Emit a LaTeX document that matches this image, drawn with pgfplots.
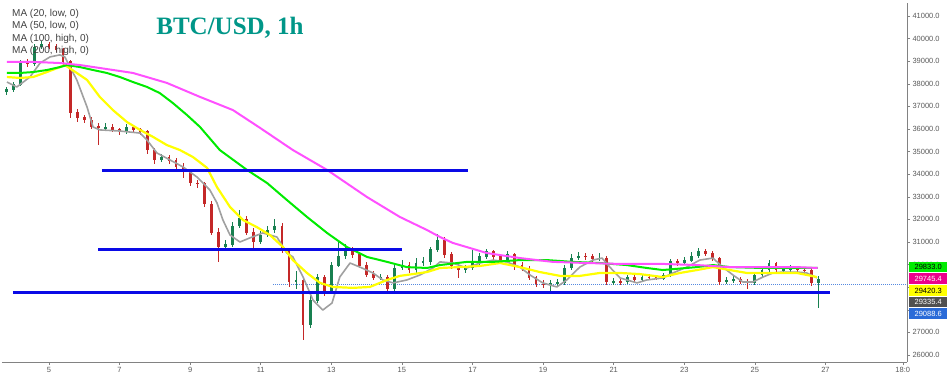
\documentclass[border=0pt]{standalone}
\usepackage{pgfplots}
\usepackage{pgfplotstable}
\pgfplotsset{compat=1.18}
\usepackage{fontspec}
\setmainfont{Liberation Sans}
\newfontfamily\titlefont{Liberation Serif}
\definecolor{upc}{RGB}{24,128,80}
\definecolor{dnc}{RGB}{196,40,40}
\definecolor{ma20}{RGB}{160,160,160}
\definecolor{ma50}{RGB}{255,255,0}
\definecolor{ma100}{RGB}{0,235,0}
\definecolor{ma200}{RGB}{255,80,255}
\definecolor{hline}{RGB}{10,10,230}
\definecolor{titlec}{RGB}{0,150,136}
\definecolor{axisgray}{RGB}{130,130,130}
\definecolor{labgray}{RGB}{90,90,90}
\definecolor{boxgray}{RGB}{80,80,80}
\definecolor{boxblue}{RGB}{42,107,216}

\pgfplotstableread{
x o c h l
3.8 37640 37730 37850 37520
4.0 37730 37950 38100 37650
4.2 37950 38920 39050 37900
4.4 38920 38880 39100 38750
4.6 38880 39630 39750 38800
4.8 39630 39720 39900 39550
5.0 39720 39670 39850 39550
5.2 39670 39500 39750 39400
5.4 39500 38970 39600 38850
5.6 38970 36750 39050 36500
5.8 36750 36490 36900 36300
6.0 36490 36400 36600 36250
6.2 36400 36130 36550 36000
6.4 36130 36050 36250 35300
6.6 36050 36080 36250 35900
6.8 36080 35960 36200 35850
7.0 35960 35870 36050 35750
7.2 35870 36050 36200 35800
7.4 36050 35960 36150 35850
7.6 35960 35870 36050 35750
7.8 35870 35070 35950 34900
8.0 35070 34630 35150 34450
8.2 34630 34720 34900 34550
8.4 34720 34590 34850 34450
8.6 34590 34360 34700 34200
8.8 34360 34100 34500 33830
9.0 34100 33610 34200 33500
9.2 33610 33570 33750 33400
9.4 33570 32680 33650 32550
9.6 32680 31440 32800 31300
9.8 31440 30820 31600 30100
10.0 30820 30870 31100 30650
10.2 30870 31710 31900 30800
10.4 31710 32020 32400 31600
10.6 32020 31440 32150 31300
10.8 31440 31000 31600 30650
11.0 31000 31310 31500 30900
11.2 31310 31530 31700 31200
11.4 31530 31710 32000 31400
11.6 31710 30650 31850 30500
11.8 30650 29230 30750 29000
12.0 29230 29320 29700 28900
12.2 29320 27330 29400 26660
12.4 27330 28430 28600 27200
12.6 28430 29410 29600 28300
12.8 29410 28790 29550 28600
13.0 28790 29980 30100 28700
13.2 29980 30380 31000 29900
13.4 30380 30650 30900 30250
13.6 30650 30430 30800 30300
13.8 30430 29980 30500 29850
14.0 29980 29580 30100 29450
14.2 29580 29410 29700 29300
14.4 29410 29450 29600 29300
14.6 29450 28920 29550 28800
14.8 28920 29850 30000 28850
15.0 29850 29980 30200 29750
15.2 29980 29760 30100 29650
15.4 29760 30070 30300 29650
15.6 30070 30120 30350 29950
15.8 30120 30650 30800 30000
16.0 30650 31090 31350 30550
16.2 31090 30430 31200 30300
16.4 30430 29940 30550 29800
16.6 29940 29760 30050 29400
16.8 29760 29850 30000 29650
17.0 29850 30120 30650 29750
17.2 30120 30340 30500 30000
17.4 30340 30560 30700 30250
17.6 30560 30340 30650 30200
17.8 30340 30200 30450 30050
18.0 30200 30430 30600 30100
18.2 30430 29980 30500 29750
18.4 29980 29850 30100 29700
18.6 29850 29410 29950 29300
18.8 29410 29140 29500 29000
19.0 29140 29100 29300 28950
19.2 29100 29150 29300 28800
19.4 29150 29190 29350 29000
19.6 29190 29850 30000 29100
19.8 29850 30290 30450 29750
20.0 30290 30380 30550 30200
20.2 30380 30340 30500 30200
20.4 30340 30250 30450 30100
20.6 30250 30290 30500 30150
20.8 30290 29230 30400 29100
21.0 29230 29270 29400 29100
21.2 29270 29230 29400 29100
21.4 29230 29410 29550 29150
21.6 29410 29360 29550 29250
21.8 29360 29450 29600 29250
22.0 29450 29420 29600 29300
22.2 29420 29400 29550 29300
22.4 29400 29540 29650 29300
22.6 29540 30120 30250 29450
22.8 30120 30070 30250 29950
23.0 30070 30200 30350 30000
23.2 30200 30380 30550 30100
23.4 30380 30560 30750 30300
23.6 30560 30510 30700 30400
23.8 30510 30290 30600 30150
24.0 30290 29270 30350 29100
24.2 29270 29320 29450 29150
24.4 29320 29360 29500 29200
24.6 29360 29270 29450 29150
24.8 29270 29190 29350 28900
25.0 29190 29540 29650 29100
25.2 29540 29760 29900 29450
25.4 29760 30030 30200 29650
25.6 30030 29760 30100 29650
25.8 29760 29800 29950 29650
26.0 29800 29810 30000 29650
26.2 29810 29760 29950 29650
26.4 29760 29720 29900 29600
26.6 29720 29190 29800 29050
26.8 29190 29335 29500 28100
}\candles

\begin{document}
\begin{tikzpicture}
\begin{axis}[
  scale only axis, width=905pt, height=359pt,
  xmin=3.67, xmax=29.31, ymin=25690, ymax=41576,
  axis x line*=bottom, axis y line*=right,
  axis line style={draw=axisgray, line width=0.6pt},
  xtick={5,7,9,11,13,15,17,19,21,23,25,27,29.19},
  xticklabels={5,7,9,11,13,15,17,19,21,23,25,27,18:0},
  ytick={26000,27000,...,41000},
  yticklabels={26000.0,27000.0,,,30000.0,31000.0,32000.0,33000.0,34000.0,35000.0,36000.0,37000.0,38000.0,39000.0,40000.0,41000.0},
  tick align=outside, major tick length=3pt,
  tick style={draw=axisgray, line width=0.5pt},
  ticklabel style={font=\fontsize{7.5}{9}\selectfont, text=labgray},
  yticklabel style={xshift=-1pt},
  xticklabel style={yshift=1pt},
  scaled y ticks=false,
]
% current price dotted line
\addplot[draw=boxblue!80, line width=0.5pt, dash pattern=on 1pt off 1pt] coordinates {(11.35,29140) (29.31,29140)};
% wicks
\addplot[draw=none, mark=none, restrict expr to domain={\thisrow{c}-\thisrow{o}}{0:100000},
  error bars/.cd, y dir=both, y explicit, error mark=none, error bar style={draw=upc, line width=0.8pt}]
  table[x=x, y expr=(\thisrow{h}+\thisrow{l})/2, y error expr=(\thisrow{h}-\thisrow{l})/2]{\candles};
\addplot[draw=none, mark=none, restrict expr to domain={\thisrow{o}-\thisrow{c}}{1:100000},
  error bars/.cd, y dir=both, y explicit, error mark=none, error bar style={draw=dnc, line width=0.8pt}]
  table[x=x, y expr=(\thisrow{h}+\thisrow{l})/2, y error expr=(\thisrow{h}-\thisrow{l})/2]{\candles};
% bodies
\addplot[draw=none, mark=none, restrict expr to domain={\thisrow{c}-\thisrow{o}}{0:100000},
  error bars/.cd, y dir=both, y explicit, error mark=none, error bar style={draw=upc, line width=2.8pt}]
  table[x=x, y expr=(\thisrow{o}+\thisrow{c})/2, y error expr=abs(\thisrow{c}-\thisrow{o})/2+20]{\candles};
\addplot[draw=none, mark=none, restrict expr to domain={\thisrow{o}-\thisrow{c}}{1:100000},
  error bars/.cd, y dir=both, y explicit, error mark=none, error bar style={draw=dnc, line width=2.8pt}]
  table[x=x, y expr=(\thisrow{o}+\thisrow{c})/2, y error expr=abs(\thisrow{c}-\thisrow{o})/2+20]{\candles};
% MA 20 (grey)
\addplot[draw=ma20, line width=1.6pt, line join=round, mark=none] coordinates {
(3.81,38080)(4.09,37860)(4.46,38300)(4.75,38920)(5.03,39190)(5.31,39280)(5.45,39190)(5.79,38170)(6.08,36970)(6.25,36090)(6.44,35960)(7.01,35910)(7.58,35820)(7.78,35510)(8.06,34940)(8.43,34630)(8.80,34320)(9.19,33880)(9.56,33300)(9.76,32730)(9.93,31970)(10.13,31310)(10.41,31000)(10.69,31180)(11.06,31400)(11.46,31220)(11.74,30510)(11.91,30340)(12.20,29450)(12.48,28430)(12.76,27990)(13.02,28300)(13.24,29450)(13.53,30070)(13.81,29890)(14.18,29630)(14.46,29320)(14.75,29190)(15.14,29320)(15.51,29540)(15.88,29850)(16.08,30120)(16.44,30070)(16.84,29850)(17.21,30070)(17.58,30200)(17.97,30120)(18.34,29890)(18.63,29540)(18.99,29190)(19.39,29010)(19.67,29320)(20.04,29890)(20.41,30200)(20.67,30290)(20.89,29890)(21.18,29410)(21.66,29190)(21.94,29320)(22.39,29410)(22.68,29630)(23.07,29890)(23.44,30200)(23.81,30290)(24.09,29890)(24.38,29540)(24.66,29230)(24.94,29230)(25.23,29450)(25.51,29630)(25.79,29670)(26.19,29670)(26.47,29630)(26.76,29410)};
% MA 50 (yellow)
\addplot[draw=ma50, line width=2.2pt, line join=round, mark=none] coordinates {
(3.81,38300)(4.18,38260)(4.55,38300)(4.94,38520)(5.31,38740)(5.45,38830)(5.79,38480)(6.08,38170)(6.44,37420)(6.81,36840)(7.21,36310)(7.58,35960)(7.95,35650)(8.34,35290)(8.71,35070)(9.08,34760)(9.48,34280)(9.76,33430)(10.13,32550)(10.50,31970)(10.89,31660)(11.26,31310)(11.63,30780)(11.91,30200)(12.31,29630)(12.68,29190)(13.05,29010)(13.61,28970)(14.09,29010)(14.58,29320)(14.94,29500)(15.31,29580)(15.71,29670)(16.08,29850)(16.64,29890)(17.21,29940)(17.78,30070)(18.34,29890)(18.91,29670)(19.48,29500)(20.04,29500)(20.61,29630)(21.18,29630)(21.74,29580)(22.39,29450)(22.88,29630)(23.36,29760)(23.81,29890)(24.29,29760)(24.77,29630)(25.23,29630)(25.71,29630)(26.19,29630)(26.76,29450)};
% MA 100 (green)
\addplot[draw=ma100, line width=2pt, line join=round, mark=none] coordinates {
(3.81,38480)(4.18,38480)(4.55,38520)(4.94,38610)(5.31,38740)(5.51,38830)(5.88,38740)(6.25,38610)(6.64,38480)(7.01,38300)(7.38,38080)(7.78,37860)(8.14,37590)(8.51,37150)(8.91,36620)(9.28,36090)(9.84,35070)(10.61,34190)(11.18,33610)(11.74,32860)(12.31,32110)(12.88,31400)(13.44,30780)(14.01,30340)(14.58,30120)(15.14,29890)(15.71,29850)(16.08,29980)(16.84,30120)(17.58,30120)(18.34,30200)(19.11,30200)(19.84,30120)(20.61,30070)(21.37,29980)(21.94,29850)(22.39,29760)(23.36,29890)(23.81,29980)(24.29,29890)(25.23,29850)(26.19,29850)(26.78,29850)};
% MA 200 (magenta)
\addplot[draw=ma200, line width=2pt, line join=round, mark=none] coordinates {
(3.81,38970)(4.55,38970)(5.31,38920)(5.88,38830)(6.44,38700)(7.38,38480)(8.34,38040)(9.28,37420)(10.21,36840)(10.98,36050)(11.91,35070)(12.88,34190)(14.01,32990)(14.94,32110)(15.71,31530)(16.08,31220)(16.44,30960)(17.41,30510)(18.34,30290)(19.28,30120)(20.24,30070)(21.18,30030)(22.39,30030)(23.36,29980)(24.29,29890)(25.23,29890)(26.19,29890)(26.78,29850)};
% horizontal levels
\addplot[draw=hline, line width=2.4pt, mark=none] coordinates {(6.50,34160) (16.87,34160)};
\addplot[draw=hline, line width=2.4pt, mark=none] coordinates {(6.39,30670) (15.00,30670)};
\addplot[draw=hline, line width=2.4pt, mark=none] coordinates {(3.98,28770) (27.12,28770)};
\coordinate (lg) at (axis cs:29.31,29894);
\coordinate (lm) at (axis cs:29.31,29376);
\coordinate (ly) at (axis cs:29.31,28854);
\coordinate (lk) at (axis cs:29.31,28345);
\coordinate (lb) at (axis cs:29.31,27836);
\end{axis}
\begin{scope}[every node/.style={anchor=west, minimum width=38pt, minimum height=10.5pt, inner sep=0pt, font=\fontsize{7.5}{9}\selectfont}]
\node[fill=ma100, text=black] at ([xshift=2pt]lg) {29833.0};
\node[fill=magenta, text=white] at ([xshift=2pt]lm) {29745.4};
\node[fill=ma50, text=black] at ([xshift=2pt]ly) {29420.3};
\node[fill=boxgray, text=white] at ([xshift=2pt]lk) {29335.4};
\node[fill=boxblue, text=white] at ([xshift=2pt]lb) {29088.6};
\end{scope}
\begin{scope}[every node/.style={anchor=west, inner sep=0pt, font=\fontsize{10}{12}\selectfont, text=black!75}]
\node at ([shift={(10pt,-11pt)}]current axis.north west) {MA (20, low, 0)};
\node at ([shift={(10pt,-23.4pt)}]current axis.north west) {MA (50, low, 0)};
\node at ([shift={(10pt,-35.8pt)}]current axis.north west) {MA (100, high, 0)};
\node at ([shift={(10pt,-48.2pt)}]current axis.north west) {MA (200, high, 0)};
\end{scope}
\node[text=titlec, font=\titlefont\bfseries\fontsize{25}{28}\selectfont, inner sep=0pt] at ([shift={(228pt,-25pt)}]current axis.north west) {BTC/USD, 1h};
\pgfresetboundingbox
\path[use as bounding box] (current axis.south west) ++(-2pt,-16pt) rectangle ++(950pt,378pt);
\end{tikzpicture}
\end{document}
